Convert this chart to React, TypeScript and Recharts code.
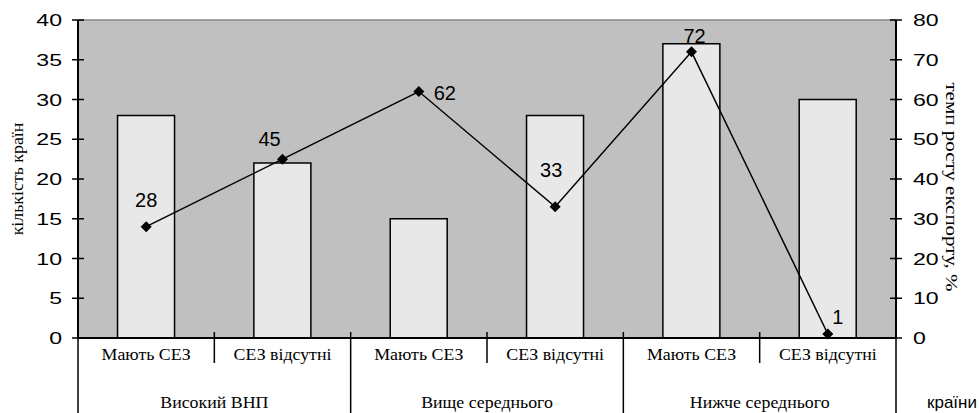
import React from 'react';
import { ComposedChart, Bar, Line, XAxis, YAxis, CartesianGrid, LabelList, ReferenceLine } from 'recharts';

const CATEGORIES = ['Мають СЕЗ', 'СЕЗ відсутні', 'Мають СЕЗ', 'СЕЗ відсутні', 'Мають СЕЗ', 'СЕЗ відсутні'];
const GROUPS = ['Високий ВНП', 'Вище середнього', 'Нижче середнього'];
const COUNTRY_COUNTS = [28, 22, 15, 28, 37, 30];
const EXPORT_GROWTH = [28, 45, 62, 33, 72, 1];
const LEFT_TICKS = [0, 5, 10, 15, 20, 25, 30, 35, 40];
const RIGHT_TICKS = [0, 10, 20, 30, 40, 50, 60, 70, 80];
const LEFT_TITLE = 'кількість країн';
const RIGHT_TITLE = 'темп росту експорту, %';
const X_TITLE = 'країни';

// label placement (style only): [dx, dy] relative to point
const LABEL_OFFSETS = [
  [0, -20],
  [-13, -13],
  [26, 8],
  [-4, -30],
  [3, -9],
  [10, -10],
];

const data = CATEGORIES.map((c, i) => ({
  id: i,
  count: COUNTRY_COUNTS[i],
  growth: EXPORT_GROWTH[i],
}));

const SANS = 'Liberation Sans';
const SERIF = 'Liberation Serif';

const W = 979;
const H = 413;
const LEFT_W = 78;
const RIGHT_W = 83;
const TOP = 20;
const X_H = 75;

const NUM_SIZE = 16.5;
const NUM_SX = 1.4;

const STxt = ({ x, y, children, anchor = 'start', size = 16, family = SANS, sx = 1, rotate = 0 }: any) => (
  <g transform={`translate(${x},${y}) rotate(${rotate}) scale(${sx},1)`}>
    <text x={0} y={0} textAnchor={anchor} fill="#000" fontFamily={family} fontSize={size}>
      {children}
    </text>
  </g>
);

const LeftTick = (props: any) => {
  const { x, y, payload } = props;
  const ax = x + 16;
  return (
    <g>
      <line x1={ax - 6} x2={ax + 6} y1={y} y2={y} stroke="#000" strokeWidth={1.5} />
      <STxt x={x} y={y + 6} anchor="end" size={NUM_SIZE} sx={NUM_SX}>{payload.value}</STxt>
    </g>
  );
};

const RightTick = (props: any) => {
  const { x, y, payload } = props;
  const ax = x - 17;
  return (
    <g>
      <line x1={ax - 6} x2={ax + 6} y1={y} y2={y} stroke="#000" strokeWidth={1.5} />
      <STxt x={x} y={y + 6} anchor="start" size={NUM_SIZE} sx={NUM_SX}>{payload.value}</STxt>
    </g>
  );
};

const XTick = (props: any) => {
  const { x, y, payload } = props;
  const i = Number(payload.value);
  const half = payload.offset || (W - LEFT_W - RIGHT_W) / CATEGORIES.length / 2;
  const even = i % 2 === 0;
  return (
    <g>
      <STxt x={x} y={y + 22} anchor="middle" size={17} family={SERIF} sx={1.05}>{CATEGORIES[i]}</STxt>
      {even && (
        <>
          <STxt x={x + half} y={y + 70} anchor="middle" size={17} family={SERIF} sx={1.05}>
            {GROUPS[Math.floor(i / 2)]}
          </STxt>
          <line x1={x + half} x2={x + half} y1={y - 6} y2={y + 25} stroke="#000" strokeWidth={1.5} />
          <line x1={x - half} x2={x - half} y1={y - 6} y2={y + 80} stroke="#000" strokeWidth={1.5} />
        </>
      )}
      {i === CATEGORIES.length - 1 && (
        <line x1={x + half} x2={x + half} y1={y - 6} y2={y + 80} stroke="#000" strokeWidth={1.5} />
      )}
    </g>
  );
};

const Diamond = (props: any) => {
  const { cx, cy } = props;
  if (cx == null || cy == null) return null;
  const s = 5.5;
  return <path d={`M${cx},${cy - s} L${cx + s},${cy} L${cx},${cy + s} L${cx - s},${cy} Z`} fill="#000" />;
};

const PointLabel = (props: any) => {
  const { x, y, value, index } = props;
  const [dx, dy] = LABEL_OFFSETS[index] || [0, -12];
  return (
    <text x={x + dx} y={y + dy} textAnchor="middle" fill="#000" fontFamily={SANS} fontSize={20}>
      {value}
    </text>
  );
};

const LeftTitle = (props: any) => {
  const vb = props.viewBox || {};
  const cy = (vb.y ?? TOP) + (vb.height ?? 318) / 2;
  return (
    <STxt x={23} y={cy} anchor="middle" size={17} family={SERIF} rotate={-90} sx={1.05}>{LEFT_TITLE}</STxt>
  );
};

const RightTitle = (props: any) => {
  const vb = props.viewBox || {};
  const cy = (vb.y ?? TOP) + (vb.height ?? 318) / 2 + 8;
  return (
    <STxt x={946} y={cy} anchor="middle" size={17.5} family={SERIF} rotate={90} sx={1.2}>{RIGHT_TITLE}</STxt>
  );
};

const XTitle = () => (
  <STxt x={927} y={408} anchor="start" size={17} sx={1.0}>{X_TITLE}</STxt>
);

export default function App() {
  return (
    <div style={{ position: 'absolute', left: 0, top: 0, width: W, height: H, background: '#fff' }}>
      <ComposedChart
        width={W}
        height={H}
        data={data}
        margin={{ top: TOP, right: 0, left: 0, bottom: 0 }}
        barCategoryGap="29%"
      >
        <CartesianGrid fill="#c0c0c0" horizontal={false} vertical={false} stroke="none" />
        <XAxis
          dataKey="id"
          type="category"
          height={X_H}
          tickLine={false}
          tickSize={0}
          tickMargin={0}
          axisLine={{ stroke: '#000', strokeWidth: 2 }}
          tick={<XTick />}
          interval={0}
          label={<XTitle />}
        />
        <YAxis
          yAxisId="left"
          orientation="left"
          width={LEFT_W}
          domain={[0, 40]}
          ticks={LEFT_TICKS}
          interval={0}
          tickLine={false}
          tickSize={6}
          tickMargin={10}
          axisLine={{ stroke: '#000', strokeWidth: 2 }}
          tick={<LeftTick />}
          label={<LeftTitle />}
        />
        <YAxis
          yAxisId="right"
          orientation="right"
          width={RIGHT_W}
          domain={[0, 80]}
          ticks={RIGHT_TICKS}
          interval={0}
          tickLine={false}
          tickSize={6}
          tickMargin={11}
          axisLine={{ stroke: '#000', strokeWidth: 2 }}
          tick={<RightTick />}
          label={<RightTitle />}
        />
        <ReferenceLine yAxisId="left" y={40} stroke="#8a8a8a" strokeWidth={1.5} />
        <Bar
          yAxisId="left"
          dataKey="count"
          fill="#e8e8e8"
          stroke="#000"
          strokeWidth={1.5}
          isAnimationActive={false}
        />
        <Line
          yAxisId="right"
          dataKey="growth"
          stroke="#000"
          strokeWidth={1.5}
          dot={<Diamond />}
          activeDot={false}
          isAnimationActive={false}
        >
          <LabelList dataKey="growth" content={<PointLabel />} />
        </Line>
      </ComposedChart>
    </div>
  );
}
